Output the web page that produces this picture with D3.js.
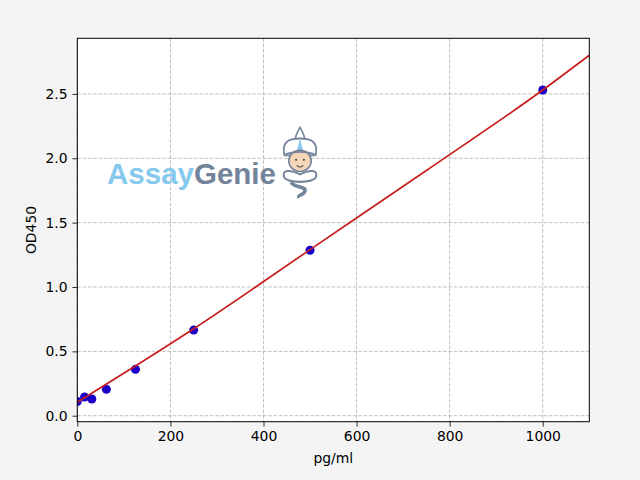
<!DOCTYPE html>
<html><head><meta charset="utf-8">
<script src="https://cdn.jsdelivr.net/npm/d3@7"></script>
<style>
html,body{margin:0;padding:0;background:#f4f4f4;}
svg{display:block;font-family:"DejaVu Sans",sans-serif;}
</style></head>
<body>
<svg id="chart" width="640" height="480"></svg>
<script>
// Standards (pg/ml) and measured OD450
const concentrations = [0, 15.6, 31.25, 62.5, 125, 250, 500, 1000];
const odValues = [0.11, 0.145, 0.13, 0.205, 0.36, 0.665, 1.285, 2.53];
// Fitted curve
const fitX = [0, 250, 500, 750, 1000, 1100];
const fitY = [0.105, 0.675, 1.29, 1.905, 2.53, 2.8];
const xTicks = [0, 200, 400, 600, 800, 1000];
const yTicks = [0.0, 0.5, 1.0, 1.5, 2.0, 2.5];
const xLabel = "pg/ml";
const yLabel = "OD450";

const svg = d3.select("#chart");
const L = 77.3, R = 589.3, T = 38.3, B = 421.7;
const x = d3.scaleLinear().domain([0, 1100]).range([L, R]);
const y = d3.scaleLinear().domain([-0.0465, 2.932]).range([B, T]);

svg.append("rect").attr("width",640).attr("height",480).attr("fill","#f4f4f4");
svg.append("rect").attr("x",L).attr("y",T).attr("width",R-L).attr("height",B-T).attr("fill","#ffffff");
svg.append("defs").append("clipPath").attr("id","clip").append("rect")
  .attr("x",L).attr("y",T).attr("width",R-L).attr("height",B-T);

// grid
const grid = svg.append("g");
grid.selectAll("line.gx").data(xTicks).join("line")
  .attr("x1",d=>x(d)).attr("x2",d=>x(d)).attr("y1",T).attr("y2",B)
  .attr("stroke","#b0b0b0").attr("stroke-width",0.8).attr("stroke-dasharray","3.7,1.6");
grid.selectAll("line.gy").data(yTicks).join("line")
  .attr("y1",d=>y(d)).attr("y2",d=>y(d)).attr("x1",L).attr("x2",R)
  .attr("stroke","#b0b0b0").attr("stroke-width",0.8).attr("stroke-dasharray","3.7,1.6");

// watermark logo
const logo = svg.append("g");
const t = logo.append("text").attr("x",107).attr("y",184)
  .attr("font-family","'Liberation Sans',Arial,sans-serif").attr("font-weight","bold")
  .attr("font-size",30).attr("textLength",169).attr("lengthAdjust","spacingAndGlyphs");
t.append("tspan").attr("fill","#86c9ec").text("Assay");
t.append("tspan").attr("fill","#73839a").text("Genie");
// genie icon
const g = logo.append("g").attr("transform","translate(300,162) scale(1.12)");
const gc = "#73839a";
g.append("path").attr("d","M0,-31 C3,-26 5,-22 4,-18 L-4,-18 C-5,-22 -3,-26 0,-31 Z").attr("fill","#ffffff").attr("stroke",gc).attr("stroke-width",1.4);
g.append("path").attr("d","M-14,-6 C-17,-20 -7,-21 0,-21 C7,-21 17,-20 14,-6 Z").attr("fill","#ffffff").attr("stroke",gc).attr("stroke-width",1.6);
g.append("path").attr("d","M0,-21 L3,-9 L-3,-9 Z").attr("fill","#86c9ec");
g.append("ellipse").attr("cx",0).attr("cy",-1).attr("rx",10).attr("ry",9.5).attr("fill","#f6d6b8").attr("stroke",gc).attr("stroke-width",1.4);
g.append("path").attr("d","M-13,-7 Q0,-11 13,-7").attr("fill","none").attr("stroke",gc).attr("stroke-width",1.6);
g.append("circle").attr("cx",-3.5).attr("cy",-2).attr("r",1).attr("fill","#555");
g.append("circle").attr("cx",3.5).attr("cy",-2).attr("r",1).attr("fill","#555");
g.append("path").attr("d","M-3,3 Q0,6 3,3").attr("fill","none").attr("stroke","#555").attr("stroke-width",1);
g.append("path").attr("d","M-14,14 C-17,6 -8,7 0,11 C8,7 17,6 14,14 C10,19 -10,19 -14,14 Z").attr("fill","#ffffff").attr("stroke",gc).attr("stroke-width",1.8);
g.append("path").attr("d","M-8,18 C-4,24 7,21 4,27 C2,30 -2,29 -1,32").attr("fill","none").attr("stroke",gc).attr("stroke-width",3.2);

// points, then fit line on top
const line = d3.line().x(d=>x(d[0])).y(d=>y(d[1])).curve(d3.curveMonotoneX);
const plot = svg.append("g").attr("clip-path","url(#clip)");
plot.selectAll("circle").data(concentrations.map((c,i)=>[c,odValues[i]])).join("circle")
  .attr("cx",d=>x(d[0])).attr("cy",d=>y(d[1])).attr("r",4.5).attr("fill","#1a00c8");
plot.append("path").datum(fitX.map((v,i)=>[v,fitY[i]]))
  .attr("d",line).attr("fill","none").attr("stroke","#c81e1e").attr("stroke-width",1.7);

// frame
svg.append("rect").attr("x",L).attr("y",T).attr("width",R-L).attr("height",B-T)
  .attr("fill","none").attr("stroke","#000").attr("stroke-width",1);

// axes
const xAxis = d3.axisBottom(x).tickValues(xTicks).tickFormat(d3.format("d")).tickSize(4.9).tickPadding(4.9);
const yAxis = d3.axisLeft(y).tickValues(yTicks).tickFormat(d3.format(".1f")).tickSize(4.9).tickPadding(4.9);
const gx = svg.append("g").attr("transform",`translate(0,${B})`).call(xAxis);
const gy = svg.append("g").attr("transform",`translate(${L},0)`).call(yAxis);
[gx,gy].forEach(a=>{
  a.select(".domain").remove();
  a.selectAll(".tick line").attr("stroke","#000").attr("stroke-width",0.8);
  a.selectAll(".tick text").attr("fill","#000").attr("font-size",13.9)
    .attr("font-family","'DejaVu Sans',sans-serif");
});

svg.append("text").attr("x",(L+R)/2).attr("y",463).attr("text-anchor","middle")
  .attr("font-size",13.9).attr("fill","#000").text(xLabel);
svg.append("text").attr("transform",`translate(36,${(T+B)/2}) rotate(-90)`).attr("text-anchor","middle")
  .attr("font-size",13.9).attr("fill","#000").text(yLabel);
</script>
</body></html>
